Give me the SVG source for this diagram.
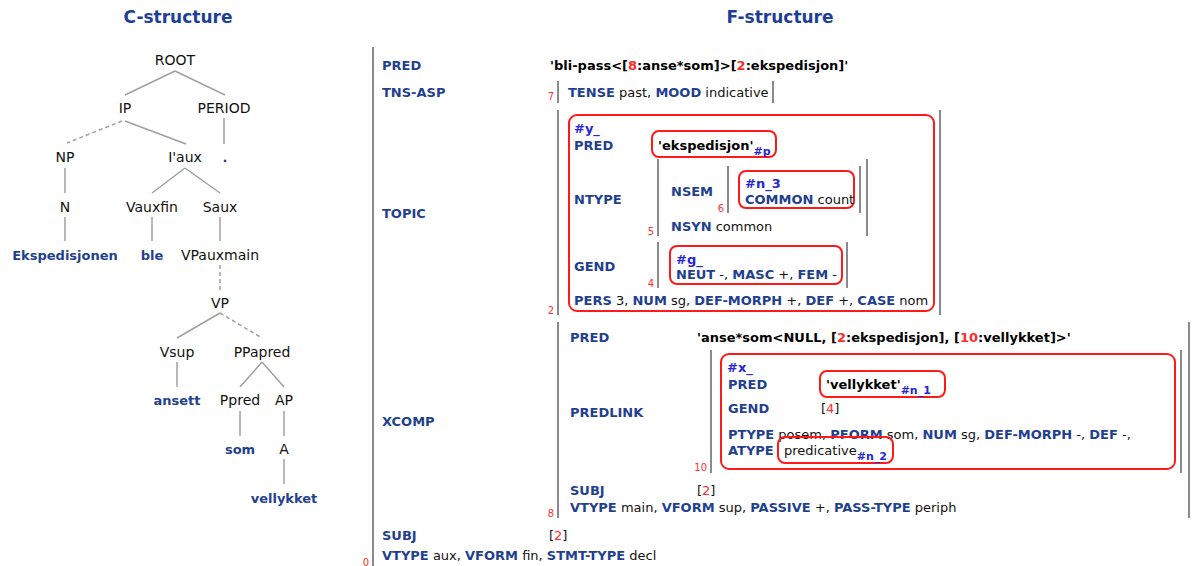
<svg xmlns="http://www.w3.org/2000/svg" width="1196" height="566" viewBox="0 0 1196 566">
<style>
text{font-family:"DejaVu Sans",Verdana,sans-serif}
.title{font-size:17px;font-weight:bold;fill:#1e3f96;text-anchor:middle}
.t{font-size:14px;fill:#111;text-anchor:middle}
.w{font-size:13px;font-weight:bold;fill:#1f3f8f;text-anchor:middle}
.e{stroke:#a0a0a0;stroke-width:1.5;fill:none}
.d{stroke-dasharray:4 3}
.f{font-size:13px;fill:#111}
.k{font-weight:bold;fill:#1f3f8f}
.v{font-weight:bold;fill:#000}
.r{fill:#ff2a2a}
.tag{font-weight:bold;fill:#2626d9}
.sub{font-size:11px;font-weight:bold;fill:#2626d9}
.n{font-size:10px;fill:#ff3030;text-anchor:end}
.br{stroke:#8a8a8a;stroke-width:2}
.box{fill:none;stroke:#ff1a1a;stroke-width:2}
</style>
<rect width="1196" height="566" fill="#fff"/>
<text class="title" x="178" y="23">C-structure</text>
<text class="title" x="780" y="23">F-structure</text>

<g id="connectors">
<line class="e" x1="175" y1="71" x2="125" y2="95"/>
<line class="e" x1="175" y1="71" x2="225" y2="95"/>
<line class="e d" x1="122" y1="121" x2="67" y2="143"/>
<line class="e" x1="125" y1="121" x2="186" y2="144"/>
<line class="e" x1="224" y1="118" x2="224" y2="144"/>
<line class="e" x1="65" y1="168" x2="65" y2="193"/>
<line class="e" x1="185" y1="168" x2="152" y2="193"/>
<line class="e" x1="185" y1="168" x2="220" y2="193"/>
<line class="e" x1="65" y1="217" x2="65" y2="241"/>
<line class="e" x1="152" y1="217" x2="152" y2="241"/>
<line class="e" x1="220" y1="217" x2="220" y2="241"/>
<line class="e d" x1="220" y1="265" x2="220" y2="290"/>
<line class="e" x1="220" y1="313" x2="177" y2="338"/>
<line class="e d" x1="220" y1="313" x2="262" y2="338"/>
<line class="e" x1="177" y1="362" x2="177" y2="387"/>
<line class="e" x1="262" y1="362" x2="240" y2="387"/>
<line class="e" x1="262" y1="362" x2="284" y2="387"/>
<line class="e" x1="240" y1="411" x2="240" y2="436"/>
<line class="e" x1="284" y1="411" x2="284" y2="436"/>
<line class="e" x1="284" y1="459" x2="284" y2="484"/>
</g>

<g id="n-root"><text class="t" x="175" y="65">ROOT</text></g>
<g id="n-ip"><text class="t" x="125" y="113">IP</text></g>
<g id="n-period"><text class="t" x="224" y="113">PERIOD</text></g>
<g id="n-np"><text class="t" x="65" y="162">NP</text></g>
<g id="n-iaux"><text class="t" x="185" y="162">I'aux</text></g>
<g id="n-dot"><text class="w" x="225" y="162">.</text></g>
<g id="n-n"><text class="t" x="65" y="212">N</text></g>
<g id="n-vauxfin"><text class="t" x="152" y="212">Vauxfin</text></g>
<g id="n-saux"><text class="t" x="220" y="212">Saux</text></g>
<g id="n-eksp"><text class="w" x="65" y="260">Ekspedisjonen</text></g>
<g id="n-ble"><text class="w" x="152" y="260">ble</text></g>
<g id="n-vpauxmain"><text class="t" x="220" y="260">VPauxmain</text></g>
<g id="n-vp"><text class="t" x="220" y="308">VP</text></g>
<g id="n-vsup"><text class="t" x="177" y="357">Vsup</text></g>
<g id="n-ppapred"><text class="t" x="262" y="357">PPapred</text></g>
<g id="n-ansett"><text class="w" x="177" y="405">ansett</text></g>
<g id="n-ppred"><text class="t" x="240" y="405">Ppred</text></g>
<g id="n-ap"><text class="t" x="284" y="405">AP</text></g>
<g id="n-som"><text class="w" x="240" y="454">som</text></g>
<g id="n-a"><text class="t" x="284" y="454">A</text></g>
<g id="n-vellykket"><text class="w" x="284" y="503">vellykket</text></g>

<g id="fstructure">
<line class="br" x1="373" y1="47" x2="373" y2="566"/>
<text class="n" x="369" y="566">0</text>
<text class="f" x="382" y="70"><tspan class="k">PRED</tspan></text>
<text class="f" x="550" y="70"><tspan class="v">'bli-pass&lt;[</tspan><tspan class="v r">8</tspan><tspan class="v">:anse*som]&gt;[</tspan><tspan class="v r">2</tspan><tspan class="v">:ekspedisjon]'</tspan></text>
<text class="f" x="382" y="97"><tspan class="k">TNS-ASP</tspan></text>
<line class="br" x1="558" y1="81" x2="558" y2="103"/>
<line class="br" x1="773" y1="81" x2="773" y2="103"/>
<text class="n" x="554" y="100">7</text>
<text class="f" x="568" y="97"><tspan class="k">TENSE</tspan> past, <tspan class="k">MOOD</tspan> indicative</text>

<text class="f" x="382" y="218"><tspan class="k">TOPIC</tspan></text>
<line class="br" x1="558" y1="110" x2="558" y2="315"/>
<line class="br" x1="940" y1="110" x2="940" y2="315"/>
<text class="n" x="554" y="314">2</text>
<rect class="box" x="569" y="115" width="365" height="196" rx="8"/>
<text class="f" x="574" y="133"><tspan class="tag">#y_</tspan></text>
<text class="f" x="574" y="150"><tspan class="k">PRED</tspan></text>
<rect class="box" x="652" y="131" width="124" height="26" rx="7"/>
<text class="f" x="658" y="150"><tspan class="v">'ekspedisjon'</tspan><tspan class="sub" dy="5">#p</tspan></text>
<text class="f" x="574" y="204"><tspan class="k">NTYPE</tspan></text>
<line class="br" x1="658" y1="159" x2="658" y2="236"/>
<line class="br" x1="867" y1="159" x2="867" y2="236"/>
<text class="n" x="654" y="235">5</text>
<text class="f" x="671" y="196"><tspan class="k">NSEM</tspan></text>
<line class="br" x1="728" y1="166" x2="728" y2="213"/>
<line class="br" x1="860" y1="166" x2="860" y2="213"/>
<text class="n" x="724" y="212">6</text>
<rect class="box" x="739" y="171" width="115" height="37" rx="7"/>
<text class="f" x="745" y="188"><tspan class="tag">#n_3</tspan></text>
<text class="f" x="745" y="204"><tspan class="k">COMMON</tspan> count</text>
<text class="f" x="671" y="231"><tspan class="k">NSYN</tspan> common</text>
<text class="f" x="574" y="271"><tspan class="k">GEND</tspan></text>
<line class="br" x1="658" y1="242" x2="658" y2="288"/>
<line class="br" x1="847" y1="242" x2="847" y2="288"/>
<text class="n" x="654" y="287">4</text>
<rect class="box" x="670" y="246" width="172" height="38" rx="7"/>
<text class="f" x="676" y="264"><tspan class="tag">#g_</tspan></text>
<text class="f" x="676" y="279"><tspan class="k">NEUT</tspan> -, <tspan class="k">MASC</tspan> +, <tspan class="k">FEM</tspan> -</text>
<text class="f" x="574" y="305"><tspan class="k">PERS</tspan> 3, <tspan class="k">NUM</tspan> sg, <tspan class="k">DEF-MORPH</tspan> +, <tspan class="k">DEF</tspan> +, <tspan class="k">CASE</tspan> nom</text>

<text class="f" x="382" y="426"><tspan class="k">XCOMP</tspan></text>
<line class="br" x1="558" y1="322" x2="558" y2="518"/>
<line class="br" x1="1189" y1="322" x2="1189" y2="518"/>
<text class="n" x="554" y="517">8</text>
<text class="f" x="570" y="342"><tspan class="k">PRED</tspan></text>
<text class="f" x="697" y="342"><tspan class="v">'anse*som&lt;NULL, [</tspan><tspan class="v r">2</tspan><tspan class="v">:ekspedisjon], [</tspan><tspan class="v r">10</tspan><tspan class="v">:vellykket]&gt;'</tspan></text>
<text class="f" x="570" y="417"><tspan class="k">PREDLINK</tspan></text>
<line class="br" x1="711" y1="350" x2="711" y2="473"/>
<line class="br" x1="1181" y1="350" x2="1181" y2="473"/>
<text class="n" x="707" y="471">10</text>
<rect class="box" x="721" y="354" width="454" height="115" rx="8"/>
<text class="f" x="727" y="372"><tspan class="tag">#x_</tspan></text>
<text class="f" x="728" y="389"><tspan class="k">PRED</tspan></text>
<rect class="box" x="820" y="371" width="125" height="26" rx="7"/>
<text class="f" x="826" y="389"><tspan class="v">'vellykket'</tspan><tspan class="sub" dy="5">#n_1</tspan></text>
<text class="f" x="728" y="413"><tspan class="k">GEND</tspan></text>
<text class="f" x="821" y="413">[<tspan class="r">4</tspan>]</text>
<text class="f" x="728" y="439"><tspan class="k">PTYPE</tspan> posem, <tspan class="k">PFORM</tspan> som, <tspan class="k">NUM</tspan> sg, <tspan class="k">DEF-MORPH</tspan> -, <tspan class="k">DEF</tspan> -,</text>
<text class="f" x="728" y="455"><tspan class="k">ATYPE</tspan></text>
<rect class="box" x="778" y="437" width="115" height="26" rx="7"/>
<text class="f" x="784" y="455">predicative<tspan class="sub" dy="5">#n_2</tspan></text>
<text class="f" x="570" y="495"><tspan class="k">SUBJ</tspan></text>
<text class="f" x="697" y="495">[<tspan class="r">2</tspan>]</text>
<text class="f" x="570" y="512"><tspan class="k">VTYPE</tspan> main, <tspan class="k">VFORM</tspan> sup, <tspan class="k">PASSIVE</tspan> +, <tspan class="k">PASS-TYPE</tspan> periph</text>

<text class="f" x="382" y="540"><tspan class="k">SUBJ</tspan></text>
<text class="f" x="549" y="540">[<tspan class="r">2</tspan>]</text>
<text class="f" x="382" y="560"><tspan class="k">VTYPE</tspan> aux, <tspan class="k">VFORM</tspan> fin, <tspan class="k">STMT-TYPE</tspan> decl</text>
</g>
</svg>
